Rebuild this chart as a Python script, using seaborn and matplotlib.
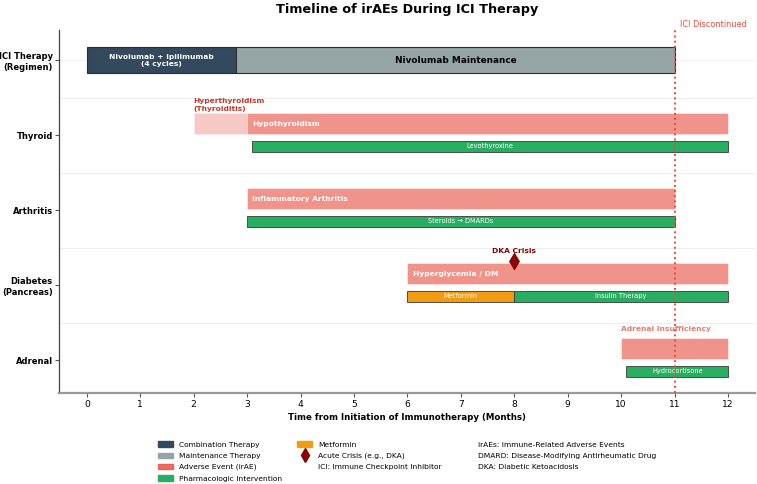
import matplotlib
matplotlib.use("Agg")
import matplotlib.pyplot as plt
import matplotlib.patches as mpatches
from matplotlib.lines import Line2D
import seaborn as sns
import pandas as pd

sns.set_theme(style="ticks")
plt.rcParams['font.family'] = ['DejaVu Sans']
plt.rcParams['text.color'] = 'black'
plt.rcParams['axes.labelcolor'] = 'black'
plt.rcParams['xtick.color'] = 'black'
plt.rcParams['ytick.color'] = 'black'

categories = ["ICI Therapy\n(Regimen)", "Thyroid", "Arthritis", "Diabetes\n(Pancreas)", "Adrenal"]

# ICI regimen
ici_labels = ["Nivolumab + Ipilimumab\n(4 cycles)", "Nivolumab Maintenance"]
ici_start = [0, 2.8]
ici_end = [2.8, 11]

# adverse events (row index, start, end, label)
ae_rows = [1, 1, 2, 3, 4]
ae_start = [2, 3, 3, 6, 10]
ae_end = [3, 12, 11, 12, 12]
ae_labels = ["", "Hypothyroidism", "Inflammatory Arthritis", "Hyperglycemia / DM", ""]
ae_alpha = [0.3, 0.6, 0.6, 0.6, 0.6]

# drugs
drug_rows = [1, 2, 3, 3, 4]
drug_start = [3.1, 3, 6, 8, 10.1]
drug_end = [12, 11, 8, 12, 12]
drug_labels = ["Levothyroxine", "Steroids \u2192 DMARDs", "Metformin", "Insulin Therapy", "Hydrocortisone"]
drug_colors = ["#27ae60", "#27ae60", "#f39c12", "#27ae60", "#27ae60"]

crisis_x = [8]
crisis_row = [3]
crisis_label = ["DKA Crisis"]

ici_stop = 11
xticks = list(range(0, 13))

C_COMB = "#34495e"
C_MAINT = "#95a5a6"
C_AE = "#e74c3c"

fig = plt.figure(figsize=(7.57, 4.84), dpi=100)
ax = fig.add_axes([0.078, 0.188, 0.919, 0.75])

# separators
for y in [0.5, 1.5, 2.5, 3.5]:
    ax.axhline(y, color="#eeeeee", lw=0.8, zorder=0)
ax.axhline(0, color="#f2f2f2", lw=0.8, zorder=0)

# ICI bars
ax.barh([0, 0], [e - s for s, e in zip(ici_start, ici_end)], left=ici_start, height=0.35,
        color=[C_COMB, C_MAINT], edgecolor="#2c2c2c", linewidth=0.8, zorder=2)
ax.text((ici_start[0] + ici_end[0]) / 2, 0, ici_labels[0], ha="center", va="center",
        color="white", fontsize=5.4, fontweight="bold", zorder=3)
ax.text((ici_start[1] + ici_end[1]) / 2, 0, ici_labels[1], ha="center", va="center",
        color="black", fontsize=6.4, fontweight="bold", zorder=3)

# AE bars
for r, s, e, lab, a in zip(ae_rows, ae_start, ae_end, ae_labels, ae_alpha):
    ax.barh(r - 0.15, e - s, left=s, height=0.28, color=C_AE, alpha=a,
            edgecolor="white", linewidth=0.5, zorder=2)
    if lab:
        ax.text(s + 0.1, r - 0.15, lab, ha="left", va="center", color="white",
                fontsize=5.4, fontweight="bold", zorder=3)

# drug bars
for r, s, e, lab, c in zip(drug_rows, drug_start, drug_end, drug_labels, drug_colors):
    ax.barh(r + 0.15, e - s, left=s, height=0.15, color=c, edgecolor="#3a3a3a",
            linewidth=0.6, zorder=2)
    ax.text((s + e) / 2, r + 0.15, lab, ha="center", va="center", color="white",
            fontsize=4.8, zorder=3)

# annotations
ax.text(2, 0.69, "Hyperthyroidism\n(Thyroiditis)", ha="left", va="bottom", color="#c0392b",
        fontsize=5.4, fontweight="bold", linespacing=1.35)
ax.text(10, 3.59, "Adrenal Insufficiency", ha="left", va="center", color=C_AE, alpha=0.75,
        fontsize=5.4, fontweight="bold")

crisis_df = pd.DataFrame({"x": crisis_x, "y": [r - 0.32 for r in crisis_row]})
sns.scatterplot(data=crisis_df, x="x", y="y", marker="d", s=70, color="#8b0000",
                edgecolor="#8b0000", ax=ax, zorder=4, legend=False)
for cx, cr, cl in zip(crisis_x, crisis_row, crisis_label):
    ax.text(cx, cr - 0.45, cl, ha="center", va="center", color="#8b0000",
            fontsize=5.4, fontweight="bold")

ax.axvline(ici_stop, color="#e74c3c", linestyle=":", lw=1.4, zorder=5)
ax.text(ici_stop + 0.1, -0.42, "ICI Discontinued", ha="left", va="bottom", color="#e74c3c",
        fontsize=5.9)

ax.set_xlim(-0.52, 12.5)
ax.set_ylim(4.44, -0.4)
ax.set_yticks(range(len(categories)))
ax.set_yticklabels(categories, fontsize=6.0, fontweight="bold", linespacing=1.3)
ax.set_xticks(xticks)
ax.set_xticklabels([str(t) for t in xticks], fontsize=6.6)
ax.set_xlabel("Time from Initiation of Immunotherapy (Months)", fontsize=6.2, fontweight="bold",
              labelpad=3)
ax.set_ylabel("")
ax.tick_params(axis="both", length=3, width=0.8, color="#555555", labelcolor="black", pad=2)
ax.tick_params(axis="y", pad=1.5)
ax.spines["left"].set_color("#444444")
ax.spines["left"].set_linewidth(0.9)
ax.spines["bottom"].set_color("#999999")
ax.spines["bottom"].set_linewidth(1.6)
sns.despine(ax=ax)

ax.set_title("Timeline of irAEs During ICI Therapy", fontsize=9.2, fontweight="bold", pad=12,
             color="black")

handles = [
    mpatches.Patch(color=C_COMB, label="Combination Therapy"),
    mpatches.Patch(color=C_MAINT, label="Maintenance Therapy"),
    mpatches.Patch(color=C_AE, alpha=0.8, label="Adverse Event (irAE)"),
    mpatches.Patch(color="#27ae60", label="Pharmacologic Intervention"),
    mpatches.Patch(color="#f39c12", label="Metformin"),
    Line2D([], [], marker="d", color="#8b0000", linestyle="None", markersize=7,
           label="Acute Crisis (e.g., DKA)"),
    Line2D([], [], linestyle="None", label="ICI: Immune Checkpoint Inhibitor"),
    Line2D([], [], linestyle="None", label="irAEs: Immune-Related Adverse Events"),
    Line2D([], [], linestyle="None", label="DMARD: Disease-Modifying Antirheumatic Drug"),
    Line2D([], [], linestyle="None", label="DKA: Diabetic Ketoacidosis"),
]
leg = ax.legend(handles=handles, loc="upper center", bbox_to_anchor=(0.5, -0.125), ncol=3,
                frameon=False, fontsize=5.4, handlelength=2.0, handleheight=0.7,
                labelspacing=0.65, columnspacing=2.0, borderaxespad=0)

fig.savefig("out.png", dpi=100)
